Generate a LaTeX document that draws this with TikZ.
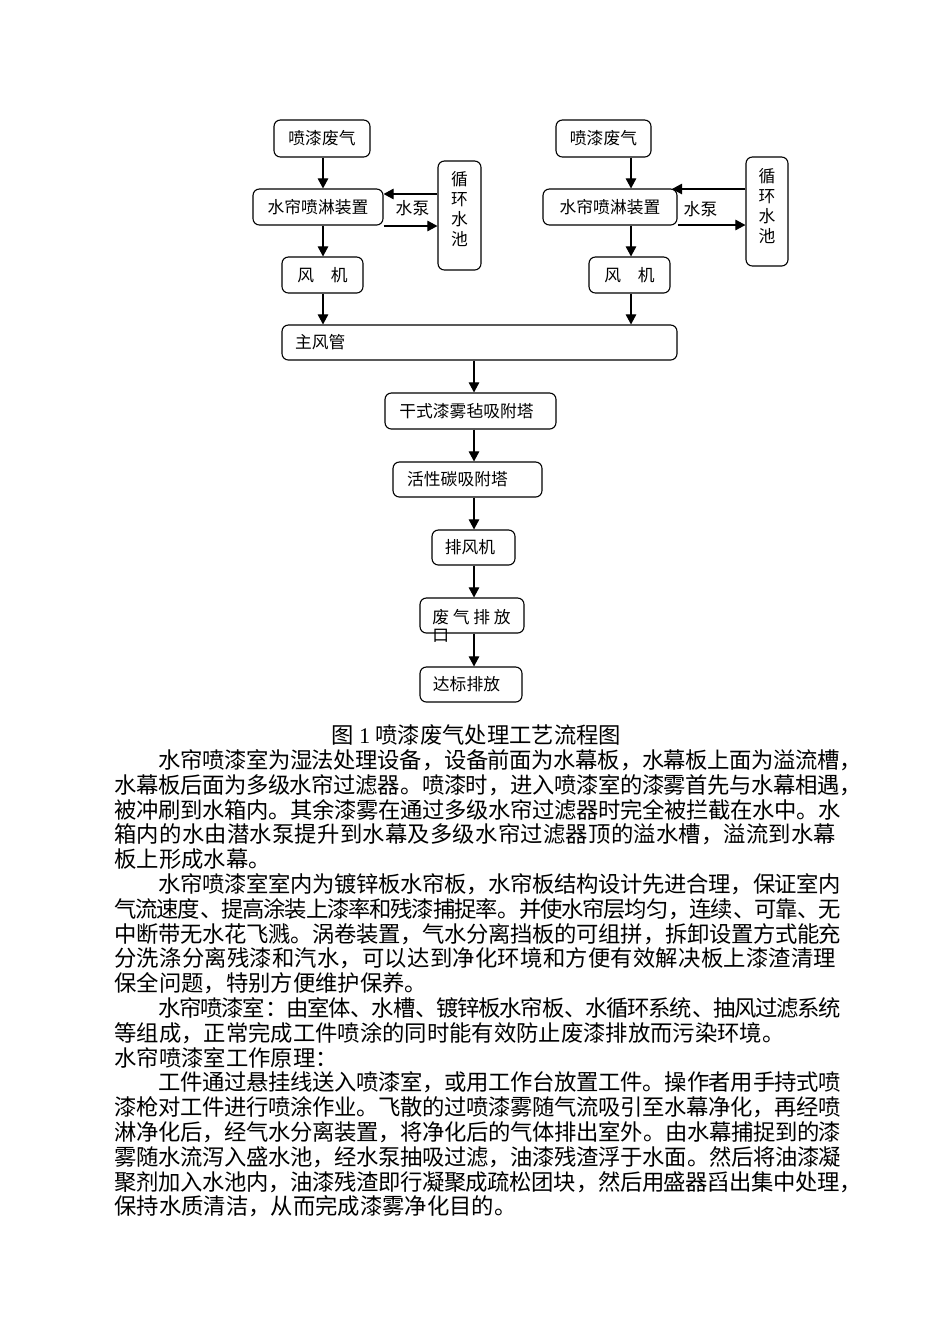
\documentclass[tikz,border=0pt]{standalone}
\usepackage{fontspec}
\setmainfont{Noto Sans CJK SC}
\newfontfamily\latinserif{Liberation Serif}
\usetikzlibrary{arrows.meta,calc}
\XeTeXlinebreaklocale "zh"
\XeTeXlinebreakskip=0pt plus 3pt minus 1.2pt
\newdimen\pxu
\pxu=0.62661pt
\newcommand\jline[2]{\parbox[b]{#1\pxu}{\XeTeXlinebreaklocale "zh"\XeTeXlinebreakskip=0pt plus 3pt minus 1.2pt\parfillskip=0pt\parindent=0pt\tolerance=9999\relax #2}}
\tikzset{
  box/.style={draw, line width=0.7pt, rounded corners=4pt, inner sep=0pt,
    font=\fontsize{10.5pt}{12.5pt}\selectfont},
  sz/.style 2 args={minimum width=#1*\pxu, minimum height=#2*\pxu},
  arr/.style={line width=0.7pt, -{Triangle[length=6.3pt,width=6.6pt]}},
  lbl/.style={inner sep=0pt, font=\fontsize{10.5pt}{12.5pt}\selectfont},
  vtext/.style={inner sep=0pt, align=center, font=\fontsize{10.5pt}{12.53pt}\selectfont},
  body/.style={anchor=base west, inner sep=0pt, font=\fontsize{14pt}{17pt}\selectfont},
}
\begin{document}
\begin{tikzpicture}[x=0.62661pt, y=-0.62661pt]
\useasboundingbox[fill=white] (0,0) rectangle (950,1344);

% column guide coordinates
\coordinate (cL) at (323,0);
\coordinate (cR) at (631,0);
\coordinate (cM) at (474,0);

% left branch
\node[box, sz={96}{37}] (gasL) at (322,138.5) {喷漆废气};
\node[box, sz={130}{36}] (sprL) at (318,207) {水帘喷淋装置};
\node[box, sz={43}{109}] (poolL) at (459.5,215.5) {};
\node[vtext] (poolLt) at (459.5,209) {循\\环\\水\\池};
\node[box, sz={81}{36}] (fanL) at (322.5,275) {风\hspace{1em}机};
\node[lbl] (pumpL) at (412.5,208.5) {水泵};

% right branch
\node[box, sz={95}{37}] (gasR) at (603.5,138.5) {喷漆废气};
\node[box, sz={134}{36}] (sprR) at (610,207) {水帘喷淋装置};
\node[box, sz={42}{109}] (poolR) at (767,211.5) {};
\node[vtext] (poolRt) at (767,206) {循\\环\\水\\池};
\node[box, sz={81}{36}] (fanR) at (629.5,275) {风\hspace{1em}机};
\node[lbl] (pumpR) at (700.5,209.5) {水泵};

% main line
\node[box, sz={395}{35}] (main) at (479.5,342.5) {\makebox[369\pxu][l]{主风管}};
\node[box, sz={171}{36}] (dry) at (470.5,411) {干式漆雾毡吸附塔\kern8\pxu};
\node[box, sz={149}{35}] (act) at (467.5,479.5) {活性碳吸附塔\kern20\pxu};
\node[box, sz={83}{35}] (exf) at (473.5,547.5) {排风机\kern7\pxu};
\node[box, sz={104}{35}] (exh) at (472,615.5) {};
\node[anchor=west, inner sep=0pt, align=left, font=\fontsize{10.5pt}{11.28pt}\selectfont] (exht) at (432,626) {废 气 排 放\\口};
\node[box, sz={102}{35}] (std) at (471,684.5) {达标排放\kern9\pxu};

% vertical connectors
\draw[arr] (gasL.south -| cL) -- (sprL.north -| cL);
\draw[arr] (sprL.south -| cL) -- (fanL.north -| cL);
\draw[arr] (fanL.south -| cL) -- (main.north -| cL);
\draw[arr] (gasR.south -| cR) -- (sprR.north -| cR);
\draw[arr] (sprR.south -| cR) -- (fanR.north -| cR);
\draw[arr] (fanR.south -| cR) -- (main.north -| cR);
\draw[arr] (main.south -| cM) -- (dry.north -| cM);
\draw[arr] (dry.south -| cM) -- (act.north -| cM);
\draw[arr] (act.south -| cM) -- (exf.north -| cM);
\draw[arr] (exf.south -| cM) -- (exh.north -| cM);
\draw[arr] (exh.south -| cM) -- (std.north -| cM);

% pump loops
\coordinate (pL1) at (0,194);
\coordinate (pL2) at (0,226);
\draw[arr] (poolL.west |- pL1) -- (sprL.east |- pL1);
\draw[arr] (sprL.east |- pL2) -- (poolL.west |- pL2);
\coordinate (pR1) at (672,189);
\coordinate (pR2) at (0,225);
\draw[arr] (poolR.west |- pR1) -- (pR1);
\draw[arr] (sprR.east |- pR2) -- (poolR.west |- pR2);

% caption
\node[anchor=base, inner sep=0pt, font=\fontsize{14pt}{17pt}\selectfont] (cap) at (476.5,743.5) {图 {\latinserif 1} 喷漆废气处理工艺流程图};

% body text
\node[body] (l1) at (158,768.5) {\jline{704}{水帘喷漆室为湿法处理设备，设备前面为水幕板，水幕板上面为溢流槽，}};
\node[body] (l2) at (114,793.3) {\jline{748}{水幕板后面为多级水帘过滤器。喷漆时，进入喷漆室的漆雾首先与水幕相遇，}};
\node[body] (l3) at (114,818.1) {\jline{727}{被冲刷到水箱内。其余漆雾在通过多级水帘过滤器时完全被拦截在水中。水}};
\node[body] (l4) at (114,842.9) {\jline{722}{箱内的水由潜水泵提升到水幕及多级水帘过滤器顶的溢水槽，溢流到水幕}};
\node[body] (l5) at (114,867.7) {板上形成水幕。};
\node[body] (l6) at (158,892.5) {\jline{683}{水帘喷漆室室内为镀锌板水帘板，水帘板结构设计先进合理，保证室内}};
\node[body] (l7) at (114,917.3) {\jline{727}{气流速度、提高涂装上漆率和残漆捕捉率。并使水帘层均匀，连续、可靠、无}};
\node[body] (l8) at (114,942.1) {\jline{727}{中断带无水花飞溅。涡卷装置，气水分离挡板的可组拼，拆卸设置方式能充}};
\node[body] (l9) at (114,966.9) {\jline{722}{分洗涤分离残漆和汽水，可以达到净化环境和方便有效解决板上漆渣清理}};
\node[body] (l10) at (114,991.7) {保全问题，特别方便维护保养。};
\node[body] (l11) at (158,1016.5) {\jline{683}{水帘喷漆室：由室体、水槽、镀锌板水帘板、水循环系统、抽风过滤系统}};
\node[body] (l12) at (114,1041.3) {等组成，正常完成工件喷涂的同时能有效防止废漆排放而污染环境。};
\node[body] (l13) at (114,1066.1) {水帘喷漆室工作原理：};
\node[body] (l14) at (158,1090.9) {\jline{683}{工件通过悬挂线送入喷漆室，或用工作台放置工件。操作者用手持式喷}};
\node[body] (l15) at (114,1115.7) {\jline{727}{漆枪对工件进行喷涂作业。飞散的过喷漆雾随气流吸引至水幕净化，再经喷}};
\node[body] (l16) at (114,1140.5) {\jline{727}{淋净化后，经气水分离装置，将净化后的气体排出室外。由水幕捕捉到的漆}};
\node[body] (l17) at (114,1165.3) {\jline{727}{雾随水流泻入盛水池，经水泵抽吸过滤，油漆残渣浮于水面。然后将油漆凝}};
\node[body] (l18) at (114,1190.1) {\jline{748}{聚剂加入水池内，油漆残渣即行凝聚成疏松团块，然后用盛器舀出集中处理，}};
\node[body] (l19) at (114,1214.9) {保持水质清洁，从而完成漆雾净化目的。};
\end{tikzpicture}
\end{document}
